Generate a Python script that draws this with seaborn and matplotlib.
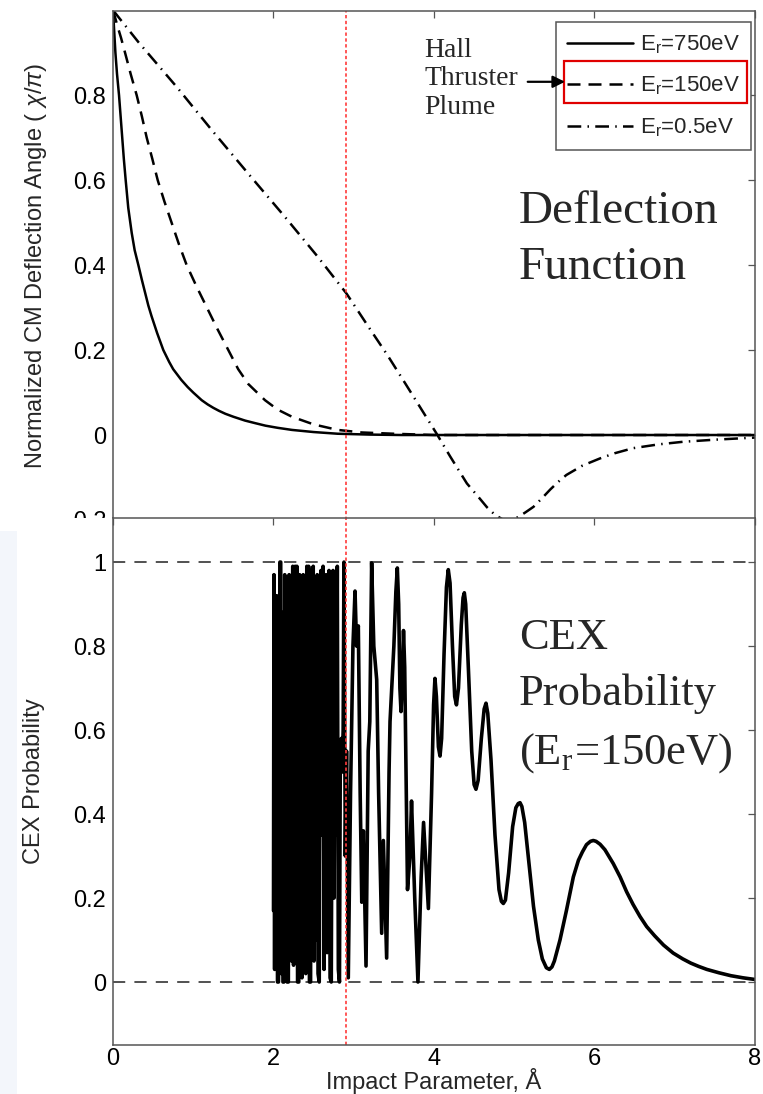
import numpy as np
import seaborn as sns
import matplotlib.pyplot as plt
from matplotlib.patches import Rectangle

# ---- data ----
# deflection function, E_r = 750 eV
x750 = [0.0, 0.015, 0.03, 0.05, 0.075, 0.095, 0.115, 0.135, 0.158, 0.19, 0.233,
        0.27, 0.316, 0.36, 0.40, 0.44, 0.48, 0.55, 0.627, 0.70, 0.75, 0.85, 0.93,
        1.0, 1.105, 1.18, 1.25, 1.32, 1.4, 1.5, 1.645, 1.77, 1.9, 2.05, 2.23, 2.5,
        2.8, 3.2, 3.6, 4.0, 8.0]
y750 = [1.0, 0.95, 0.90, 0.85, 0.80, 0.75, 0.70, 0.65, 0.60, 0.535, 0.476,
        0.435, 0.40, 0.365, 0.335, 0.305, 0.28, 0.24, 0.20, 0.172, 0.155, 0.13, 0.113,
        0.10, 0.082, 0.072, 0.064, 0.057, 0.050, 0.043, 0.034, 0.028, 0.022, 0.017, 0.012, 0.007,
        0.003, 0.001, 0.0, 0.0, 0.0]
# E_r = 150 eV
x150 = [0.0, 0.03, 0.06, 0.1, 0.15, 0.22, 0.295, 0.36, 0.42, 0.49, 0.557, 0.64,
        0.73, 0.82, 0.918, 1.04, 1.17, 1.3, 1.437, 1.56, 1.686, 1.894, 2.05, 2.23,
        2.5, 2.8, 3.1, 3.5, 4.0, 8.0]
y150 = [1.0, 0.98, 0.96, 0.935, 0.90, 0.85, 0.80, 0.75, 0.70, 0.65, 0.60, 0.55,
        0.50, 0.45, 0.40, 0.35, 0.30, 0.25, 0.20, 0.155, 0.12, 0.082, 0.06, 0.043,
        0.025, 0.012, 0.006, 0.003, 0.0, 0.0]
# E_r = 0.5 eV
x05 = [0.0, 0.316, 0.8, 1.23, 1.7, 2.14, 2.55, 2.91, 3.2, 3.42, 3.64, 4.03,
       4.2, 4.41, 4.55, 4.66, 4.76, 4.85, 4.906, 4.97, 5.05, 5.14, 5.24, 5.35,
       5.45, 5.55, 5.65, 5.85, 6.07, 6.25, 6.48, 6.8, 7.1, 7.5, 8.0]
y05 = [1.0, 0.925, 0.818, 0.718, 0.612, 0.514, 0.42, 0.333, 0.25, 0.188, 0.122, 0.004,
       -0.05, -0.114, -0.145, -0.170, -0.188, -0.198, -0.203, -0.200, -0.193, -0.182, -0.169, -0.148,
       -0.128, -0.110, -0.094, -0.072, -0.055, -0.043, -0.031, -0.022, -0.016, -0.011, -0.006]

# CEX probability, E_r = 150 eV
cex_x = [2.000, 2.006, 2.014, 2.022, 2.030, 2.040, 2.050, 2.062, 2.070, 2.080,
         2.090, 2.098, 2.108, 2.118, 2.130, 2.140, 2.150, 2.160, 2.170, 2.185,
         2.195, 2.205, 2.215, 2.225, 2.240, 2.250, 2.262, 2.270, 2.282, 2.292,
         2.300, 2.315, 2.325, 2.335, 2.345, 2.355, 2.370, 2.380, 2.392, 2.402,
         2.415, 2.425, 2.438, 2.448, 2.462, 2.472, 2.485, 2.495, 2.505, 2.518,
         2.530, 2.545, 2.555, 2.570, 2.580, 2.592, 2.605, 2.618, 2.630, 2.645,
         2.655, 2.668, 2.680, 2.692, 2.705, 2.720, 2.730, 2.742, 2.755, 2.768,
         2.780, 2.795, 2.808, 2.822, 2.832, 2.845, 2.855, 2.868, 2.878, 2.895,
         2.910, 2.932, 2.960, 2.990, 3.016, 3.035, 3.057, 3.080, 3.100, 3.120,
         3.153, 3.180, 3.200, 3.223, 3.250, 3.286, 3.310, 3.348, 3.369, 3.410,
         3.440, 3.452, 3.500, 3.525, 3.543, 3.560, 3.575, 3.589, 3.605, 3.620,
         3.635, 3.670, 3.700, 3.720, 3.760, 3.800, 3.840, 3.870, 3.930, 3.970,
         3.995, 4.012, 4.030, 4.055, 4.075, 4.095, 4.125, 4.155, 4.178, 4.200,
         4.230, 4.258, 4.280, 4.305, 4.340, 4.362, 4.378, 4.395, 4.430, 4.470,
         4.500, 4.523, 4.550, 4.590, 4.625, 4.648, 4.670, 4.710, 4.760, 4.810,
         4.840, 4.864, 4.890, 4.930, 4.980, 5.020, 5.050, 5.072, 5.095, 5.130,
         5.180, 5.240, 5.300, 5.350, 5.400, 5.437, 5.470, 5.500, 5.570, 5.650,
         5.736, 5.800, 5.850, 5.900, 5.950, 5.985, 6.020, 6.070, 6.130, 6.234,
         6.320, 6.400, 6.480, 6.567, 6.650, 6.750, 6.860, 6.980, 7.100, 7.200,
         7.300, 7.400, 7.550, 7.700, 7.850, 8.000]
cex_y = [0.17, 0.97, 0.03, 0.84, 0.10, 0.92, 0.00, 0.00, 0.11, 1.00,
         1.00, 0.02, 0.88, 0.00, 0.00, 0.97, 0.16, 0.94, 0.00, 0.00,
         0.97, 0.35, 0.88, 0.05, 0.99, 0.04, 0.60, 0.99, 0.34, 0.99,
         0.00, 0.00, 0.97, 0.22, 0.95, 0.01, 0.97, 0.10, 0.88, 0.02,
         0.99, 0.40, 0.99, 0.00, 0.00, 0.98, 0.60, 0.99, 0.05, 0.94,
         0.10, 0.97, 0.02, 0.00, 0.60, 0.98, 0.35, 0.99, 0.03, 0.45,
         0.97, 0.07, 0.40, 0.98, 0.01, 0.00, 0.55, 0.98, 0.20, 0.82,
         0.35, 0.99, 0.03, 0.00, 0.52, 0.58, 0.50, 0.60, 1.00, 0.30,
         0.55, 0.01, 0.45, 0.80, 0.931, 0.80, 0.848, 0.45, 0.19, 0.36,
         0.038, 0.55, 0.62, 0.998, 0.80, 0.72, 0.45, 0.116, 0.337, 0.057,
         0.50, 0.62, 0.80, 0.93, 0.986, 0.90, 0.70, 0.644, 0.72, 0.837,
         0.75, 0.22, 0.30, 0.431, 0.20, 0.0, 0.25, 0.38, 0.175, 0.45,
         0.66, 0.723, 0.68, 0.56, 0.538, 0.58, 0.78, 0.94, 0.982, 0.95,
         0.80, 0.68, 0.66, 0.70, 0.85, 0.915, 0.927, 0.90, 0.74, 0.55,
         0.47, 0.459, 0.48, 0.58, 0.65, 0.664, 0.64, 0.53, 0.35, 0.22,
         0.192, 0.187, 0.195, 0.26, 0.37, 0.415, 0.425, 0.427, 0.418, 0.38,
         0.29, 0.18, 0.10, 0.055, 0.034, 0.03, 0.036, 0.05, 0.10, 0.17,
         0.25, 0.29, 0.31, 0.327, 0.335, 0.337, 0.335, 0.328, 0.315, 0.282,
         0.25, 0.215, 0.185, 0.156, 0.132, 0.11, 0.088, 0.069, 0.055, 0.045,
         0.037, 0.03, 0.022, 0.015, 0.01, 0.006]

xticks = [0, 2, 4, 6, 8]
top_yticks = [-0.2, 0, 0.2, 0.4, 0.6, 0.8]
top_ylabels = ['-0.2', '0', '0.2', '0.4', '0.6', '0.8']
bot_yticks = [0, 0.2, 0.4, 0.6, 0.8, 1]
bot_ylabels = ['0', '0.2', '0.4', '0.6', '0.8', '1']
b_mark = 2.9

sns.set_style('white')
plt.rcParams['font.family'] = ['Liberation Sans', 'DejaVu Sans']
plt.rcParams['mathtext.fontset'] = 'custom'
plt.rcParams['mathtext.rm'] = 'Liberation Sans'
plt.rcParams['mathtext.it'] = 'Liberation Sans:italic'

fig = plt.figure(figsize=(7.63, 10.94), dpi=100)
ax1 = fig.add_axes([0.1481, 0.5247, 0.8414, 0.4652])
ax2 = fig.add_axes([0.1481, 0.0448, 0.8414, 0.4817])
ax2.set_zorder(2)

# cover the part of the top panel's lowest tick label hidden by the lower panel
fig.patches.append(Rectangle((0, 0), 0.1481, 0.5265, transform=fig.transFigure,
                             facecolor='white', edgecolor='none', zorder=1))
fig.patches.append(Rectangle((0, 0), 0.022, 0.515, transform=fig.transFigure,
                             facecolor='#f3f6fb', edgecolor='none', zorder=1.5))

# ---- top: deflection function ----
sns.lineplot(x=x750, y=y750, ax=ax1, color='k', lw=1.8, sort=False, estimator=None,
             label=r'E$_{\mathregular{r}}$=750eV')
sns.lineplot(x=x150, y=y150, ax=ax1, color='k', lw=1.8, sort=False, estimator=None,
             ls=(0, (5.2, 3.2)), label=r'E$_{\mathregular{r}}$=150eV')
sns.lineplot(x=x05, y=y05, ax=ax1, color='k', lw=1.8, sort=False, estimator=None,
             ls=(0, (5.5, 2.5, 0.6, 2.5)), label=r'E$_{\mathregular{r}}$=0.5eV')
ax1.axvline(b_mark, color='#ff3b3b', lw=1.2, ls=(0, (2, 1.5)))
ax1.set_xlim(0, 8)
ax1.set_ylim(-0.2, 0.998)
ax1.set_yticks(top_yticks)
ax1.set_yticklabels(top_ylabels)
ax1.set_xticks(xticks)
ax1.set_xticklabels([])
ax1.set_ylabel(r'Normalized CM Deflection Angle ( $\chi/\pi$)', fontsize=17, labelpad=12)

leg = ax1.legend(loc='upper right', bbox_to_anchor=(0.994, 0.978), borderaxespad=0,
                 fontsize=16, frameon=True, fancybox=False, framealpha=1,
                 handlelength=3.0, handletextpad=0.3, labelspacing=0.85,
                 borderpad=0.5)
leg.get_frame().set_edgecolor('#555555')
leg.get_frame().set_linewidth(1.1)

ax1.add_patch(Rectangle((0.7025, 0.8193), 0.285, 0.0835, transform=ax1.transAxes,
                        fill=False, edgecolor='#e00000', lw=1.6, clip_on=False, zorder=10))
ax1.annotate('', xy=(0.704, 0.861), xytext=(0.646, 0.861), xycoords='axes fraction',
             arrowprops=dict(arrowstyle='-|>', color='k', lw=1.6, mutation_scale=18,
                             shrinkA=0, shrinkB=0), zorder=11)
ax1.text(0.485, 0.948, 'Hall\nThruster\nPlume', transform=ax1.transAxes,
         family='Liberation Serif', fontsize=20, va='top', ha='left', linespacing=1.2)
ax1.text(0.632, 0.648, 'Deflection\nFunction', transform=ax1.transAxes,
         family='Liberation Serif', fontsize=34, va='top', ha='left', linespacing=1.42)

# ---- bottom: CEX probability ----
ax2.axhline(0, color='#222222', lw=1.1, ls=(0, (8, 6)))
ax2.axhline(1, color='#222222', lw=1.1, ls=(0, (8, 6)))
sns.lineplot(x=cex_x, y=cex_y, ax=ax2, color='k', lw=2.6, sort=False, estimator=None)
ax2.axvline(b_mark, color='#ff3b3b', lw=1.2, ls=(0, (2, 1.5)))
ax2.set_xlim(0, 8)
ax2.set_ylim(-0.15, 1.105)
ax2.set_yticks(bot_yticks)
ax2.set_yticklabels(bot_ylabels)
ax2.set_xticks(xticks)
ax2.set_ylabel('CEX Probability', fontsize=17, labelpad=20)
ax2.set_xlabel('Impact Parameter, Å', fontsize=17, labelpad=-1)
ax2.text(0.632, 0.81, 'CEX\nProbability\n(E$_{\\mathregular{r}}$=150eV)',
         transform=ax2.transAxes, family='Liberation Serif', math_fontfamily='stix',
         fontsize=32, va='top', ha='left', linespacing=1.5)

for ax in (ax1, ax2):
    ax.tick_params(direction='in', length=5, width=0.9, top=True, right=True,
                   labelsize=17, color='#555555', labelcolor='k', pad=5)
    for s in ax.spines.values():
        s.set_color('#555555')
        s.set_linewidth(1.1)
ax2.tick_params(axis='x', pad=2)

fig.savefig('out.png', dpi=100)
